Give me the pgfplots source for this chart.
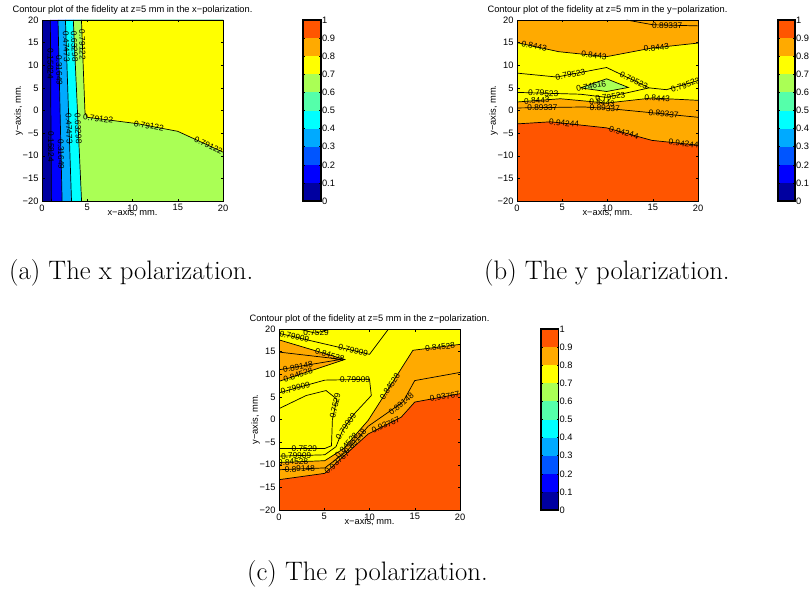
\documentclass[border=0pt]{standalone}
\usepackage{fontspec}
\usepackage{pgfplots}
\pgfplotsset{compat=1.18}
\newfontfamily\af{Liberation Sans}
% jet, ten steps
\definecolor{c0}{HTML}{0000A0}
\definecolor{c1}{HTML}{0000FF}
\definecolor{c2}{HTML}{0055FF}
\definecolor{c3}{HTML}{00AAFF}
\definecolor{c4}{HTML}{00FFFF}
\definecolor{c5}{HTML}{55FFAA}
\definecolor{c6}{HTML}{AAFF55}
\definecolor{c7}{HTML}{FFFF00}
\definecolor{c8}{HTML}{FFAA00}
\definecolor{c9}{HTML}{FF5500}
\newcommand\tk{\af\fontsize{9.3}{10}\selectfont}
\newcommand\cl{\af\fontsize{8.3}{9}\selectfont}
\newcommand\capf{\fontsize{26.7}{32}\selectfont}
\pgfplotsset{
 every axis title shift=0pt,
 contourax/.style={scale only axis,width=181pt,height=181pt,
   xmin=0,xmax=20,ymin=-20,ymax=20,axis on top,
   tick align=inside,major tick length=2.5pt,
   xtick={0,5,10,15,20},xticklabels={0,5,10,15,20},
   ytick={-20,-15,-10,-5,0,5,10,15,20},
   yticklabels={−20,−15,−10,−5,0,5,10,15,20},
   ticklabel style={font=\tk},
   title style={font=\tk,at={(axis description cs:0.5,1)},anchor=base,yshift=7.5pt},
   xlabel={x−axis, mm.},ylabel={y−axis, mm.},
   xlabel style={font=\tk,at={(axis description cs:0.5,0)},anchor=base,yshift=-14.5pt},
   ylabel style={font=\tk,at={(axis description cs:0,0.5)},anchor=base,yshift=21.2pt},
   axis line style={line width=0.7pt},every tick/.style={black,line width=0.45pt}},
 cbar/.style={scale only axis,height=181pt,xmin=0,xmax=1,ymin=0,ymax=1,
   xtick=\empty,ytick={0,0.1,0.2,0.3,0.4,0.5,0.6,0.7,0.8,0.9,1},
   yticklabels={0,0.1,0.2,0.3,0.4,0.5,0.6,0.7,0.8,0.9,1},
   yticklabel pos=right,axis on top,tick align=inside,major tick length=2pt,
   ticklabel style={font=\tk},yticklabel style={inner sep=0.8pt},
   axis line style={line width=1.1pt},every tick/.style={black,line width=0.45pt}},
 cl/.style={black,line width=0.7pt},
 rg/.style={draw=none,fill=#1}
}
\tikzset{lab/.style={font=\cl,inner sep=0pt}}
\newcommand\cbfill{%
 \addplot[rg=c0] coordinates {(0,0)(1,0)(1,0.1)(0,0.1)} -- cycle;
 \addplot[rg=c1] coordinates {(0,0.1)(1,0.1)(1,0.2)(0,0.2)} -- cycle;
 \addplot[rg=c2] coordinates {(0,0.2)(1,0.2)(1,0.3)(0,0.3)} -- cycle;
 \addplot[rg=c3] coordinates {(0,0.3)(1,0.3)(1,0.4)(0,0.4)} -- cycle;
 \addplot[rg=c4] coordinates {(0,0.4)(1,0.4)(1,0.5)(0,0.5)} -- cycle;
 \addplot[rg=c5] coordinates {(0,0.5)(1,0.5)(1,0.6)(0,0.6)} -- cycle;
 \addplot[rg=c6] coordinates {(0,0.6)(1,0.6)(1,0.7)(0,0.7)} -- cycle;
 \addplot[rg=c7] coordinates {(0,0.7)(1,0.7)(1,0.8)(0,0.8)} -- cycle;
 \addplot[rg=c8] coordinates {(0,0.8)(1,0.8)(1,0.9)(0,0.9)} -- cycle;
 \addplot[rg=c9] coordinates {(0,0.9)(1,0.9)(1,1)(0,1)} -- cycle;
}
\begin{document}
\begin{tikzpicture}
\path[use as bounding box] (0,0) rectangle (810pt,-599pt);

% ---------- (a) x polarization
\begin{axis}[contourax,at={(42pt,-201pt)},anchor=south west,
 title={Contour plot of the fidelity at z=5 mm in the x−polarization.}]
\addplot[rg=c0] coordinates {(0,-20)(20,-20)(20,20)(0,20)} -- cycle;
\addplot[rg=c1] coordinates {(0.92,20)(1.04,-20)(20,-20)(20,20)} -- cycle;
\addplot[rg=c3] coordinates {(1.77,20)(2.22,-20)(20,-20)(20,20)} -- cycle;
\addplot[rg=c4] coordinates {(2.59,20)(3.26,-20)(20,-20)(20,20)} -- cycle;
\addplot[rg=c6] coordinates {(3.46,20)(4.37,-20)(20,-20)(20,20)} -- cycle;
\addplot[rg=c7] coordinates {(4.36,20)(4.75,-0.5)(5.0,-1.5)(10.5,-2.9)(15,-4.6)(20,-9.2)(20,20)} -- cycle;
\addplot[cl] coordinates {(0.92,20)(1.04,-20)};
\addplot[cl] coordinates {(1.77,20)(2.22,-20)};
\addplot[cl] coordinates {(2.59,20)(3.26,-20)};
\addplot[cl] coordinates {(3.46,20)(4.37,-20)};
\addplot[cl] coordinates {(4.36,20)(4.75,-0.5)(5.0,-1.5)(10.5,-2.9)(15,-4.6)(20,-9.2)};
\node[lab,rotate=-90] at (axis cs:0.95,10.3) {0.15824};
\node[lab,rotate=-89] at (axis cs:1.9,8.9) {0.31649};
\node[lab,rotate=-88] at (axis cs:2.69,14.1) {0.47473};
\node[lab,rotate=-87] at (axis cs:3.59,14.1) {0.63298};
\node[lab,rotate=-89] at (axis cs:4.46,14.5) {0.79122};
\node[lab,rotate=-90] at (axis cs:1.0,-8) {0.15824};
\node[lab,rotate=-89] at (axis cs:2.1,-9.7) {0.31649};
\node[lab,rotate=-88] at (axis cs:2.99,-4) {0.47473};
\node[lab,rotate=-87] at (axis cs:4.0,-4) {0.63298};
\node[lab,rotate=-7] at (axis cs:6.2,-1.8) {0.79122};
\node[lab,rotate=-10] at (axis cs:11.8,-3.39) {0.79122};
\node[lab,rotate=-25] at (axis cs:18.4,-7.73) {0.79122};
\end{axis}
\begin{axis}[cbar,width=18pt,at={(303pt,-201pt)},anchor=south west]
\cbfill
\end{axis}

% ---------- (b) y polarization
\begin{axis}[contourax,at={(517pt,-201pt)},anchor=south west,
 title={Contour plot of the fidelity at z=5 mm in the y−polarization.}]
\addplot[rg=c8] coordinates {(0,-20)(20,-20)(20,20)(0,20)} -- cycle;
\addplot[rg=c9] coordinates {(0,-20)(0,-2.96)(3.7,-2.5)(9.9,-3.84)(14.9,-6.6)(20,-7.66)(20,-20)} -- cycle;
\addplot[rg=c7] coordinates {(0,15.0)(4.6,13.0)(9.9,11.9)(14.9,13.8)(20,14.9)(20,2.25)(14.9,2.76)(9.9,1.65)(4.8,2.6)(0,1.88)} -- cycle;
\addplot[rg=c6] coordinates {(7.0,5.0)(9.9,7.0)(12.3,5.1)(9.9,4.2)} -- cycle;
\addplot[cl] coordinates {(0,-2.96)(3.7,-2.5)(9.9,-3.84)(14.9,-6.6)(20,-7.66)};
\addplot[cl] coordinates {(0,0.56)(7.4,0.78)(9.9,0.48)(20,-1.5)};
\addplot[cl] coordinates {(0,1.88)(4.8,2.6)(9.9,1.65)(14.9,2.76)(20,2.25)};
\addplot[cl] coordinates {(0,4.0)(7,3.6)(9.9,2.9)(14.6,5.0)};
\addplot[cl] coordinates {(0,8.26)(4.4,7.4)(9.9,9.5)(14.6,5.0)};
\addplot[cl] coordinates {(14.6,5.0)(16.5,4.6)(20,6.6)};
\addplot[cl] coordinates {(7.0,5.0)(9.9,7.0)(12.3,5.1)(9.9,4.2)(7.0,5.0)};
\addplot[cl] coordinates {(0,15.0)(4.6,13.0)(9.9,11.9)(14.9,13.8)(20,14.9)};
\addplot[cl] coordinates {(12.1,20)(15.0,18.95)(20,18.7)};
\node[lab] at (axis cs:16.6,18.8) {0.89337};
\node[lab,rotate=-12] at (axis cs:1.9,14.17) {0.8443};
\node[lab,rotate=-6] at (axis cs:8.5,12.19) {0.8443};
\node[lab,rotate=7] at (axis cs:15.4,13.9) {0.8443};
\node[lab,rotate=11] at (axis cs:5.9,7.97) {0.79523};
\node[lab,rotate=-26] at (axis cs:12.9,6.63) {0.79523};
\node[lab,rotate=10] at (axis cs:8.2,5.4) {0.74616};
\node[lab,rotate=20] at (axis cs:18.6,5.6) {0.79523};
\node[lab,rotate=-2] at (axis cs:2.9,3.83) {0.79523};
\node[lab,rotate=8] at (axis cs:10.3,3.0) {0.79523};
\node[lab,rotate=4] at (axis cs:2.2,2.21) {0.8443};
\node[lab,rotate=-5] at (axis cs:9.4,1.74) {0.8443};
\node[lab,rotate=-3] at (axis cs:15.5,2.7) {0.8443};
\node[lab,rotate=1] at (axis cs:2.8,0.64) {0.89337};
\node[lab,rotate=-2] at (axis cs:9.7,0.5) {0.89337};
\node[lab,rotate=-6] at (axis cs:16.2,-0.75) {0.89337};
\node[lab,rotate=-5] at (axis cs:5.2,-2.8) {0.94244};
\node[lab,rotate=-15] at (axis cs:11.8,-4.89) {0.94244};
\node[lab,rotate=-6] at (axis cs:18.4,-7.33) {0.94244};
\end{axis}
\begin{axis}[cbar,width=17pt,at={(778pt,-201pt)},anchor=south west]
\cbfill
\end{axis}

% ---------- (c) z polarization
\begin{axis}[contourax,at={(279pt,-510pt)},anchor=south west,
 title={Contour plot of the fidelity at z=5 mm in the z−polarization.}]
\addplot[rg=c7] coordinates {(0,-20)(20,-20)(20,20)(0,20)} -- cycle;
\addplot[rg=c8] coordinates {(0,17.6)(7.27,13.26)(0,8.44)} -- cycle;
\addplot[rg=c8] coordinates {(0,-20)(0,-9.5)(5.06,-9.1)(7.1,-6.5)(9.85,-0.2)(11.9,6.2)(14.8,15.3)(20,16.6)(20,-20)} -- cycle;
\addplot[rg=c9] coordinates {(0,-20)(0,-13.3)(5.06,-11.9)(9.85,-3.2)(13.5,0.5)(15,3.85)(20,5.7)(20,-20)} -- cycle;
\addplot[cl] coordinates {(0,-13.3)(5.06,-11.9)(9.85,-3.2)(13.5,0.5)(15,3.85)(20,5.7)};
\addplot[cl] coordinates {(0,-11.1)(5.06,-10.7)(7.5,-7.0)(9.85,-1.5)(12.0,1.5)(13.7,3.9)(15.0,8.6)(20,10.4)};
\addplot[cl] coordinates {(0,-9.5)(5.06,-9.1)(7.1,-6.5)(9.85,-0.2)(11.9,6.2)(14.8,15.3)(20,16.6)};
\addplot[cl] coordinates {(0,5.9)(5.06,8.7)(10.0,8.9)(10.2,5.3)(8.2,1.0)(7.0,-2.5)(6.3,-6.0)(5.06,-7.8)(0,-8.1)};
\addplot[cl] coordinates {(0,2.4)(3.0,5.3)(5.2,6.4)(6.4,4.5)(5.9,0.0)(5.8,-5.8)(5.06,-6.4)(0,-6.4)};
\addplot[cl] coordinates {(2.2,20)(4.0,19.1)(5.8,20)};
\addplot[cl] coordinates {(0,19.04)(10.0,14.4)(12.1,20)};
\addplot[cl] coordinates {(0,17.6)(7.27,13.26)(0,8.44)};
\addplot[cl] coordinates {(0,14.9)(6.9,13.3)(0,11.0)};
\node[lab] at (axis cs:4.1,19.1) {0.7529};
\node[lab,rotate=-13] at (axis cs:1.7,18.26) {0.79909};
\node[lab,rotate=-13] at (axis cs:8.2,15.27) {0.79909};
\node[lab,rotate=-17] at (axis cs:5.6,14.26) {0.84528};
\node[lab,rotate=10] at (axis cs:2.1,11.62) {0.89148};
\node[lab,rotate=18] at (axis cs:2.1,9.83) {0.84528};
\node[lab,rotate=15] at (axis cs:1.8,6.9) {0.79909};
\node[lab,rotate=1] at (axis cs:8.4,8.84) {0.79909};
\node[lab,rotate=77] at (axis cs:6.2,3.0) {0.7529};
\node[lab,rotate=56] at (axis cs:7.4,-1.5) {0.79909};
\node[lab] at (axis cs:2.8,-6.4) {0.7529};
\node[lab,rotate=2] at (axis cs:1.9,-7.99) {0.79909};
\node[lab,rotate=2] at (axis cs:1.55,-9.38) {0.84528};
\node[lab,rotate=2] at (axis cs:2.3,-10.92) {0.89148};
\node[lab,rotate=49] at (axis cs:7.45,-5.7) {0.84528};
\node[lab,rotate=49] at (axis cs:8.4,-4.9) {0.89148};
\node[lab,rotate=42] at (axis cs:6.4,-9.5) {0.93767};
\node[lab,rotate=25] at (axis cs:11.8,-1.2) {0.93767};
\node[lab,rotate=57] at (axis cs:12.25,7.3) {0.84528};
\node[lab,rotate=40] at (axis cs:13.5,3.4) {0.89148};
\node[lab,rotate=7] at (axis cs:17.8,16.05) {0.84528};
\node[lab,rotate=10] at (axis cs:18.3,5.07) {0.93767};
\end{axis}
\begin{axis}[cbar,width=17.5pt,at={(541pt,-510pt)},anchor=south west]
\cbfill
\end{axis}

% ---------- captions
\node[anchor=base west,inner sep=0pt,font=\capf] at (9pt,-279pt) {(a) The x polarization.};
\node[anchor=base west,inner sep=0pt,font=\capf] at (484pt,-279pt) {(b) The y polarization.};
\node[anchor=base west,inner sep=0pt,font=\capf] at (247pt,-580pt) {(c) The z polarization.};
\end{tikzpicture}
\end{document}
